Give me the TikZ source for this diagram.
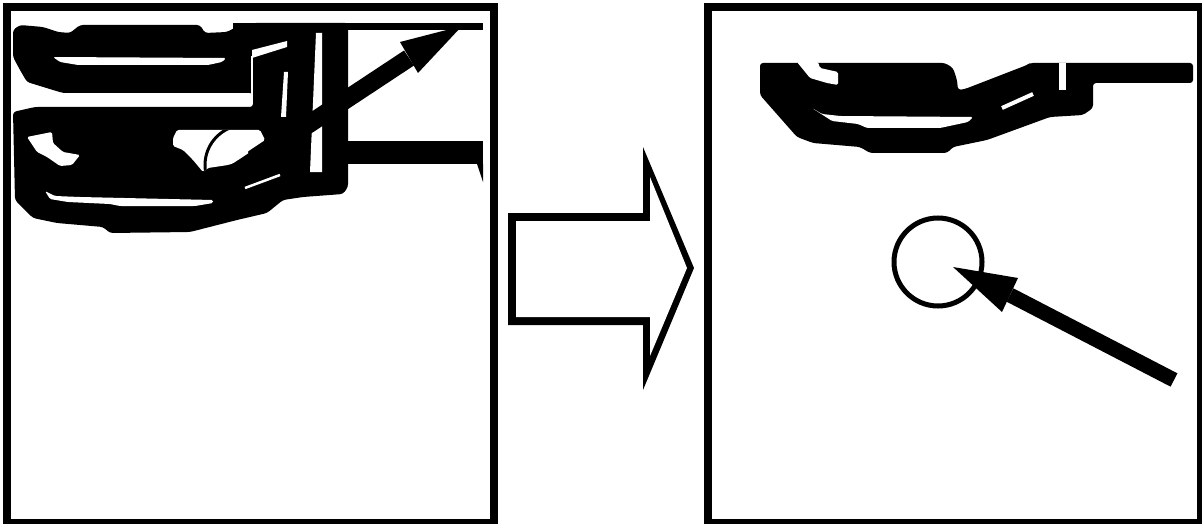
\documentclass[tikz,border=0pt]{standalone}
\begin{document}
\begin{tikzpicture}[x=1pt,y=-1pt,
  frame/.style={line width=8pt},
  mass/.style={fill=black,rounded corners=3pt},
  hole/.style={fill=white,rounded corners=1.5pt},
  slit/.style={draw=white,line width=#1},
  shaft/.style={draw=black,line width=#1}]
\useasboundingbox (0,0) rectangle (1202,524);
% ---------- frames ----------
\draw[frame] (7,7.5) rectangle (494,523);
\draw[frame] (707.5,7.5) rectangle (1200.5,523);
% ---------- left panel ----------
\fill[mass] (13,30) -- (20,25) -- (43,27) -- (58,32) -- (70,33) -- (80,25) -- (200,25) -- (205,33) -- (227,32) -- (240,25) -- (253,23) -- (348,23) -- (348,187) -- (343,194) -- (303,197) -- (283,200) -- (267,213) -- (237,220) -- (190,232) -- (110,233) -- (103,227) -- (57,223) -- (33,218) -- (15,200) -- (13,112) -- (35,107) -- (253,107) -- (253,93) -- (63,93) -- (53,90) -- (27,82) -- (20,70) -- (13,57) -- cycle;
\fill (233,23) rectangle (483,30);
\fill (348,141) rectangle (483,164);
\fill (477,164) -- (483,164) -- (483,182) -- cycle;
% holes
\fill[hole] (53,57) -- (226,58) -- (222,62) -- (208,65) -- (78,65) -- (60,62) -- cycle;
\fill[hole] (27,137) -- (52,132) -- (53,143) -- (63,152) -- (80,155) -- (72,165) -- (60,166) -- (47,157) -- (37,152) -- cycle;
\fill[hole] (177,130) -- (260,130) -- (265,140) -- (247,152) -- (252,157) -- (228,165) -- (208,168) -- (203,172) -- (193,160) -- (183,150) -- (173,146) -- (173,138) -- cycle;
\fill[hole] (45,191) -- (55,196) -- (80,197) -- (213,200) -- (213,203) -- (195,206) -- (120,206) -- (110,204) -- (68,202) -- (50,199) -- cycle;
\fill[white] (252,50) -- (287,41) -- (287,47) -- (252,58) -- cycle;
\draw[slit=2pt] (252,56) -- (252,100);
\fill[white] (284,72) -- (288,72) -- (286,117) -- (281,117) -- cycle;
\fill[white] (316,33) -- (322,33) -- (322,172) -- (310,172) -- cycle;
\draw[slit=2.5pt] (245,188) -- (280,175);
% circle seen through the hole
\begin{scope}
\clip (177,130) -- (260,130) -- (265,140) -- (247,152) -- (252,157) -- (228,165) -- (208,168) -- (203,172) -- (193,160) -- (183,150) -- (173,146) -- (173,138) -- cycle;
\draw[line width=3pt] (245,165) circle (40);
\end{scope}
% arrow
\coordinate (la0) at (232,175);
\coordinate (la1) at (409,58);
\draw[shaft=18pt] (la0) -- (la1);
\fill (400,42) -- (462,26) -- (418,73) -- cycle;
% ---------- hollow arrow ----------
\fill (508,213) -- (643,213) -- (643,147) -- (694,268) -- (643,390) -- (643,325) -- (508,325) -- cycle;
\fill[white] (516,221) -- (650,221) -- (650,177) -- (687,268) -- (650,356) -- (650,317) -- (516,317) -- cycle;
% ---------- right panel ----------
\fill[mass] (760,63) -- (945,63) -- (953,68) -- (957,80) -- (958,90) -- (965,89) -- (1027,65) -- (1030,63) -- (1193,63) -- (1193,83) -- (1093,83) -- (1093,108) -- (1083,115) -- (1050,117) -- (987,140) -- (953,147) -- (947,153) -- (870,153) -- (860,147) -- (813,143) -- (797,137) -- (760,95) -- cycle;
\fill[hole] (797,62) -- (810,78) -- (827,83) -- (838,85) -- (838,72) -- (820,68) -- (818,62) -- cycle;
\fill[hole] (812,108) -- (822,114) -- (840,116) -- (973,117) -- (968,122) -- (940,128) -- (867,128) -- (858,124) -- (832,121) -- cycle;
\draw[slit=4pt] (1002,108) -- (1033,94);
\fill[white] (1059,63) rectangle (1066,90);
% circle and arrow
\node[draw,circle,line width=5pt,minimum size=88pt,inner sep=0pt] (c) at (938,262) {};
\coordinate (ra0) at (1174,380);
\coordinate (ra1) at (1010,295);
\draw[shaft=15pt] (ra0) -- (ra1);
\fill (1018,278) -- (953,267) -- (1002,312) -- cycle;
\end{tikzpicture}
\end{document}
